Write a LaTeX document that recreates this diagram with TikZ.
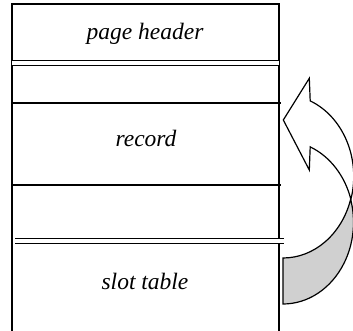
\documentclass[tikz,border=0pt]{standalone}
\usepackage{fontspec}
\setmainfont{Liberation Serif}
\definecolor{backgray}{RGB}{208,208,208}
\begin{document}
\begin{tikzpicture}[x=1pt,y=1pt,
                thinline/.style = {line width=1.3pt},
                thickline/.style = {line width=2.2pt},
                twinline/.style = {double, line width=1.4pt, double distance=3.6pt},
                areatext/.style = {font=\fontsize{23.5}{28}\selectfont\itshape, inner sep=0pt, anchor=base},
                arrowline/.style = {line width=1.2pt, line join=miter}
                ]
                \useasboundingbox (0,0) rectangle (353,331);
                \clip (0,0) rectangle (353,331);
                % page frame, open at the bottom
                \coordinate (pagebl) at (12,0);
                \coordinate (pagetl) at (12,327);
                \coordinate (pagetr) at (279,327);
                \coordinate (pagebr) at (279,0);
                \draw[thinline] (pagebl) -- (pagetl) -- (pagetr) -- (pagebr);
                % areas of the page
                \draw[twinline] (12,268) -- (279,268);
                \draw[thickline] (13,227.7) -- (281,227.7);
                \draw[thickline] (12,146) -- (281,146);
                \draw[twinline] (15,90.2) -- (284,90.2);
                \node[areatext] (header) at (145,291) {page header};
                \node[areatext] (record) at (146,184) {record};
                \node[areatext] (slots) at (145,41) {slot table};
                % curved arrow, back part first
                \filldraw[arrowline, fill=backgray] (283,27)
                    arc[start angle=-90, end angle=16.35, x radius=70.5, y radius=81.7]
                    arc[start angle=-16.35, end angle=-90, x radius=70.5, y radius=81.7] -- cycle;
                \filldraw[arrowline, fill=white] (283.3,211) -- (309.3,252.7) -- (310.2,230.1)
                    arc[start angle=67.5, end angle=-16.35, x radius=70.5, y radius=81.7]
                    arc[start angle=16.35, end angle=67.5, x radius=70.5, y radius=81.7]
                    -- (309.3,161) -- cycle;
            \end{tikzpicture}
\end{document}
